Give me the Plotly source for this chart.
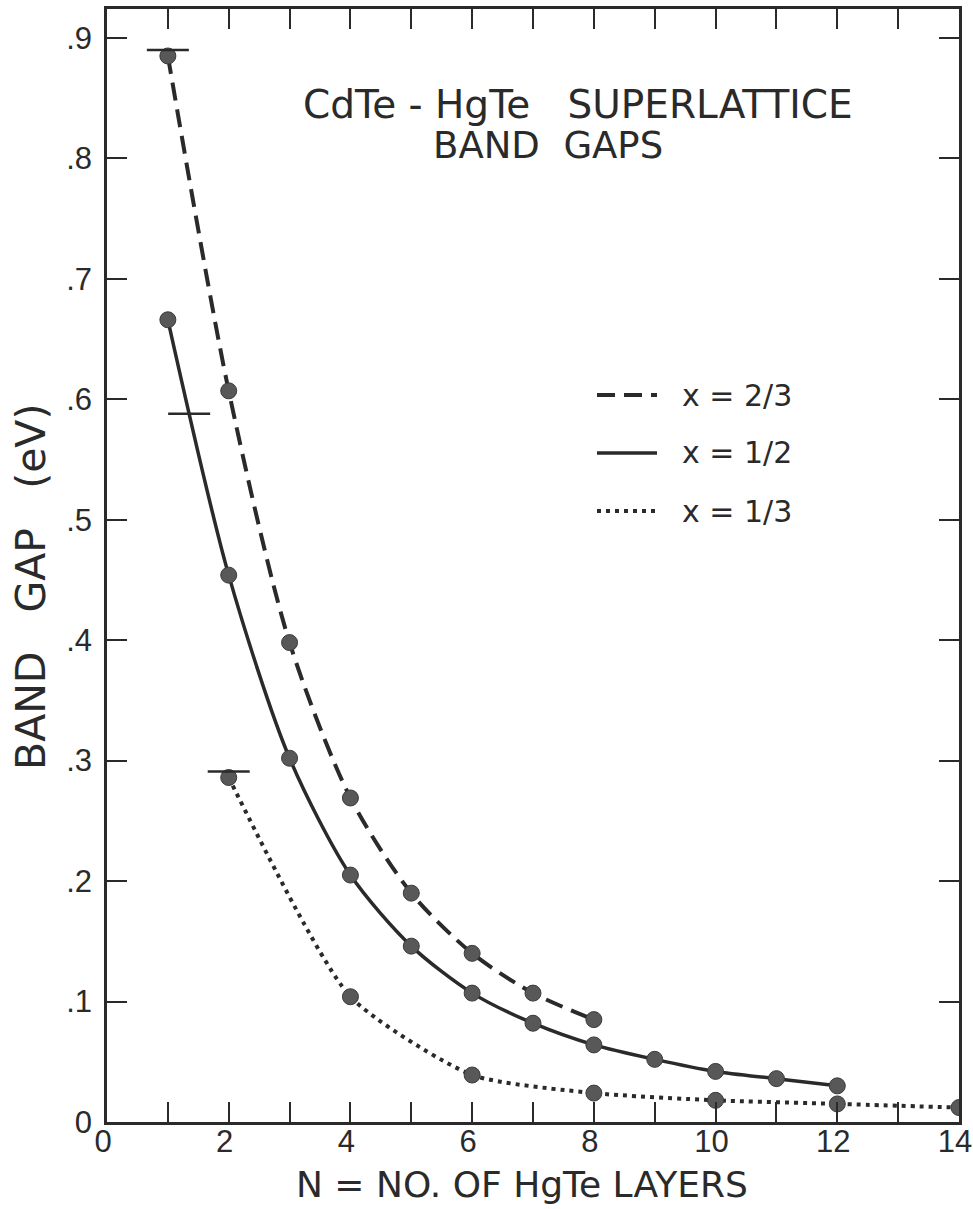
import plotly.graph_objects as go

# Band gap (eV) versus number of HgTe layers, for three CdTe fractions x
n_two_thirds = [1, 2, 3, 4, 5, 6, 7, 8]
gap_two_thirds = [0.885, 0.607, 0.398, 0.269, 0.190, 0.140, 0.107, 0.085]

n_half = [1, 2, 3, 4, 5, 6, 7, 8, 9, 10, 11, 12]
gap_half = [0.666, 0.454, 0.302, 0.205, 0.146, 0.107, 0.082, 0.064, 0.052, 0.042, 0.036, 0.030]

n_third = [2, 4, 6, 8, 10, 12, 14]
gap_third = [0.286, 0.104, 0.039, 0.024, 0.018, 0.015, 0.012]

# Short horizontal reference bars
bar_n = [1, 1.35, 2]
bar_gap = [0.890, 0.588, 0.291]

x_tick_vals = list(range(0, 15))
x_tick_text = [str(v) if v % 2 == 0 else "" for v in x_tick_vals]
y_tick_vals = [0.0, 0.1, 0.2, 0.3, 0.4, 0.5, 0.6, 0.7, 0.8, 0.9]
y_tick_text = ["0", ".1", ".2", ".3", ".4", ".5", ".6", ".7", ".8", ".9"]

legend_labels = ["x = 2/3", "x = 1/2", "x = 1/3"]

INK = "#2a2a2a"
DOT_FILL = "#585858"
FONT = "DejaVu Sans"
TICK_FONT = "Liberation Sans"

fig = go.Figure()

marker_style = dict(size=16, color=DOT_FILL, line=dict(color="#3a3a3a", width=1))

fig.add_trace(go.Scatter(
    x=n_two_thirds, y=gap_two_thirds, mode="lines+markers",
    line=dict(color=INK, width=4, dash="18px,9px", shape="spline", smoothing=0.8),
    marker=marker_style, showlegend=False,
))
fig.add_trace(go.Scatter(
    x=n_half, y=gap_half, mode="lines+markers",
    line=dict(color=INK, width=3.5, shape="spline", smoothing=0.8),
    marker=marker_style, showlegend=False,
))
fig.add_trace(go.Scatter(
    x=n_third, y=gap_third, mode="lines+markers",
    line=dict(color=INK, width=4, dash="4px,5px", shape="spline", smoothing=0.6),
    marker=marker_style, showlegend=False,
))
fig.add_trace(go.Scatter(
    x=bar_n, y=bar_gap, mode="markers",
    marker=dict(symbol="line-ew", size=30, line=dict(color=INK, width=2.5)),
    showlegend=False,
))

axis_common = dict(
    showgrid=False, zeroline=False, showline=True, linecolor=INK, linewidth=2.5,
    mirror="ticks", ticks="inside", ticklen=20, tickwidth=2, tickcolor=INK,
    tickfont=dict(family=TICK_FONT, size=31, color=INK), ticklabeloverflow="allow",
    automargin=False,
)

fig.update_xaxes(range=[0, 14], tickmode="array", tickvals=x_tick_vals,
                 ticktext=x_tick_text, ticklabelstandoff=-10, ticklabelshift=-4,
                 **axis_common)
fig.update_yaxes(range=[0, 0.924], tickmode="array", tickvals=y_tick_vals,
                 ticktext=y_tick_text, ticklabelstandoff=6, **axis_common)

annotations = [
    dict(text="CdTe - HgTe   SUPERLATTICE", x=578, y=104, font=dict(size=39)),
    dict(text="BAND  GAPS", x=548, y=145, font=dict(size=37)),
    dict(text="N = NO. OF HgTe LAYERS", x=522, y=1184, font=dict(size=36)),
    dict(text="BAND   GAP   (eV)", x=31, y=587, font=dict(size=41), textangle=-90),
]

W, H = 973, 1209
L, R, T, B = 107, 14, 9, 87
PW, PH = W - L - R, H - T - B


def px_to_paper(px, py):
    return (px - L) / PW, (H - B - py) / PH


ann_objs = []
for a in annotations:
    px, py = px_to_paper(a["x"], a["y"])
    ann_objs.append(dict(
        text=a["text"], x=px, y=py, xref="paper", yref="paper",
        xanchor="center", yanchor="middle", showarrow=False,
        textangle=a.get("textangle", 0),
        font=dict(family=FONT, size=a["font"]["size"], color=INK),
    ))

# Key: line samples with labels
legend_rows_y = [395, 453, 511]
legend_dashes = ["18px,9px", "solid", "4px,5px"]
legend_widths = [4, 3.5, 4]
shapes = []
for label, ry, dash, lw in zip(legend_labels, legend_rows_y, legend_dashes, legend_widths):
    x0, y0 = px_to_paper(597, ry)
    x1, _ = px_to_paper(657, ry)
    shapes.append(dict(type="line", xref="paper", yref="paper", x0=x0, x1=x1, y0=y0, y1=y0,
                       line=dict(color=INK, width=lw, dash=dash)))
    tx, ty = px_to_paper(680, ry)
    ann_objs.append(dict(
        text=label, x=tx, y=ty, xref="paper", yref="paper",
        xanchor="left", yanchor="middle", showarrow=False,
        font=dict(family=FONT, size=30, color=INK),
    ))

fig.update_layout(
    width=W, height=H,
    margin=dict(l=L, r=R, t=T, b=B, autoexpand=False),
    paper_bgcolor="white", plot_bgcolor="white",
    annotations=ann_objs, shapes=shapes,
)

fig.write_html("out.html")
